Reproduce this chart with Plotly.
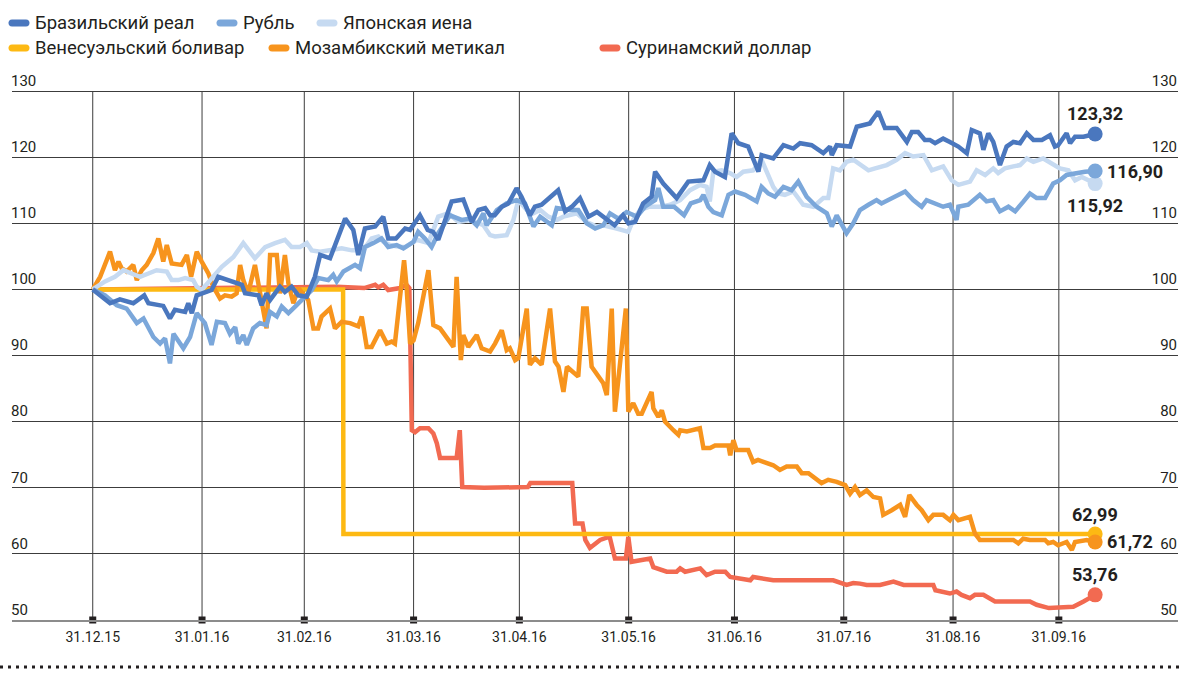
import pandas as pd
import plotly.graph_objects as go

# ---------------- data ----------------
start_date = "2015-12-31"
tick_dates = ["2015-12-31", "2016-01-31", "2016-02-29", "2016-03-31", "2016-04-30",
              "2016-05-31", "2016-06-30", "2016-07-31", "2016-08-31", "2016-09-30"]
tick_labels = ["31.12.15", "31.01.16", "31.02.16", "31.03.16", "31.04.16",
               "31.05.16", "31.06.16", "31.07.16", "31.08.16", "31.09.16"]
y_ticks = [50, 60, 70, 80, 90, 100, 110, 120, 130]

names = ["Бразильский реал", "Рубль", "Японская иена",
         "Венесуэльский боливар", "Мозамбикский метикал", "Суринамский доллар"]
end_labels = ["123,32", "116,90", "115,92", "62,99", "61,72", "53,76"]

# days since 31.12.15 / index value
brl_days = [0, 4.9, 7.7, 11.5, 14.6, 15.8, 20, 21.9, 23.3, 26.2, 27.1, 28.1, 29.5, 33.7, 35.6, 39.4,
            42.3, 43.2, 47, 47.9, 49.3, 50.3, 53.1, 54.5, 56.4, 58.3, 60.7, 63, 64.5, 67.3, 71.6,
            73.9, 75.3, 77.2, 80.1, 82.4, 83.8, 86, 88.6, 90, 92.8, 95, 96.5, 98, 99, 101.8, 105.1,
            107.5, 109.4, 111.3, 112.7, 114, 116, 117.9, 120.2, 121.6, 124, 125.4, 127.3, 130.2,
            132, 134, 135.9, 138.2, 140.6, 143, 144.8, 148, 150.4, 151.9, 153.8, 156.1, 158.5,
            159.5, 161.8, 165.6, 168.9, 173.2, 175, 176.5, 179.3, 181.2, 183.1, 185.9, 188.8,
            189.7, 193, 195.9, 198.7, 200.6, 203.9, 207.2, 209.1, 209.6, 211, 214.8, 216.7, 220.4,
            222.8, 224.7, 228, 230.9, 232.3, 234.1, 236, 237.4, 238.9, 241.2, 243.1, 245.5, 247.9,
            249.3, 251.6, 252.6, 254, 255.4, 257.3, 259.2, 261.1, 263, 264.9, 266.8, 269.2, 271.5,
            272.9, 273.8, 276.2, 277.2, 278.6, 281, 284.3]
brl_vals = [100, 97.9, 98.5, 97.9, 99.1, 97.9, 97.5, 95.6, 96.9, 96.6, 97.9, 96.4, 99.1, 99.9, 101.9,
            101.2, 100.7, 99.4, 99.1, 97.6, 99.4, 98.4, 100.4, 99.6, 100.4, 99.1, 98.9, 101.9, 105.2,
            104.7, 110.7, 109, 105.2, 109.2, 109.5, 111, 107.7, 107.7, 109.2, 109, 111.2, 109, 108.7,
            107.5, 109, 113.3, 113.6, 110.2, 112, 112.3, 111.2, 111.2, 112.5, 113, 115.3, 114, 111.2,
            112.5, 112.8, 114.3, 115, 111.8, 112.5, 113.8, 111, 111.7, 111, 109.7, 111.2, 110, 110.2,
            113, 114, 117.8, 116, 113.8, 116.3, 116.5, 118.8, 117.8, 117, 123.6, 122.1, 121.6, 117.8,
            120.3, 119.8, 121.8, 121.3, 122.1, 121.8, 120.6, 121.6, 120.3, 121.8, 121.6, 124.6, 125.1,
            126.9, 124.4, 124.4, 122.3, 123.8, 123.8, 122.6, 122.6, 122.1, 122.8, 122.3, 121.6, 120.6,
            124.1, 123.6, 121.1, 123.6, 122.3, 118.8, 121.6, 122.3, 122.1, 123.6, 122.6, 122.6, 123.3,
            121.6, 121.8, 123.6, 122.1, 123.1, 123.1, 123.5]

rub_days = [0, 3.5, 6.8, 9.6, 12.5, 14.4, 17.2, 19.1, 20.5, 21.9, 22.9, 25.7, 27.6, 29.5, 31.8, 33.7,
            35.2, 37.5, 38.9, 40.4, 41.3, 42.7, 43.7, 45.5, 47.4, 49.3, 50.3, 52.2, 53.6, 55.5, 57.4,
            60.2, 62.1, 64, 66.8, 68.2, 69.2, 71.1, 74.4, 75.8, 77.2, 79.6, 81.9, 83.8, 86.2, 88.1,
            91, 92.3, 94.2, 96.1, 98, 101.3, 104.6, 107, 108.9, 110.8, 111.7, 112.7, 114.6, 117.4,
            120.2, 122.6, 125, 126.9, 130.2, 131.6, 135.4, 137.7, 140.1, 142.5, 144.8, 146.7, 149.1,
            151.4, 154.3, 156.6, 159.5, 160.4, 161.8, 164.9, 167.7, 169.6, 172.3, 173.2, 174.6, 176,
            178.4, 180.3, 182.2, 185, 188.3, 189.7, 191.6, 193.5, 195.9, 198.2, 200.1, 202.5, 205.3,
            208.2, 209.6, 211, 213.8, 215.7, 217.6, 220, 222.3, 223.7, 227.1, 230.4, 232.7, 235.1,
            236.5, 238.9, 241.2, 243.1, 245, 245.5, 248.3, 251.6, 253.5, 255.4, 257.3, 259.7, 261.6,
            264, 265.8, 267.7, 270.1, 272.4, 274.3, 276.2, 278.6, 281.4, 284.3]
rub_vals = [100, 99.1, 97.6, 97.1, 94.9, 95.6, 92.8, 91.8, 92.6, 88.8, 93.3, 91.1, 92.8, 96.4, 94.9,
            91.6, 95.1, 94.9, 93.3, 94.3, 91.8, 93.1, 91.6, 94.1, 94.9, 94.6, 96.6, 95.9, 97.4, 96.4,
            97.4, 98.9, 99.9, 101.7, 101.4, 102.2, 101.2, 102.7, 103.7, 103.2, 106.4, 107, 107.7,
            106.4, 106.7, 106.2, 107.2, 108.7, 107.7, 106.4, 108.5, 111.2, 110.5, 110.7, 109.7, 111.5,
            109.7, 110.5, 112, 113, 113.5, 113, 109.5, 111, 109.7, 112.3, 112, 112, 110, 109.2, 109.7,
            111.5, 110.7, 111.7, 111, 112.5, 113.5, 115.3, 112.5, 112.5, 111.2, 113, 113.5, 114.3,
            112.5, 111.7, 111.2, 114.3, 114.8, 114.3, 113.3, 115.5, 114.5, 114, 115.5, 115, 116.3,
            114, 112.5, 111.5, 109.5, 111.2, 108.5, 110, 112, 112.8, 113.5, 113, 114, 114.8, 113.5,
            112.5, 113.5, 113, 112.5, 112.8, 110.5, 112.5, 112.8, 114.3, 113.3, 113.5, 111.8, 112.5,
            111.8, 113.3, 114.5, 113.8, 113.8, 116, 116.5, 117.3, 117.6, 117.8, 117.9]

jpy_days = [0, 3.5, 6.3, 8.7, 11, 13.4, 15.8, 18.1, 21, 22.4, 24.3, 26.2, 28.5, 29.5, 30.9, 33.7, 36.6,
            39.9, 42.7, 46, 48.9, 51.7, 54.5, 56.4, 58.8, 60.7, 62.1, 64.5, 68.2, 70.6, 73.5, 76.7,
            79.1, 81, 82.4, 84.3, 87.2, 88.6, 91.9, 95.2, 98, 100.9, 103.7, 107, 110.8, 112.7, 114.1,
            117.4, 119.3, 120.7, 123.1, 125, 126.9, 129.2, 131.6, 133.5, 137.3, 140.1, 142.9, 144.8,
            148.6, 151.9, 153.3, 155.2, 157.9, 161, 163.8, 166.6, 169.4, 172.2, 174.1, 175, 176,
            178.4, 180.7, 182.6, 184.5, 187.3, 189.7, 191.2, 193, 194.4, 196.3, 198.7, 201.5, 204.4,
            207.2, 208.6, 210, 211.9, 213.8, 215.7, 217.6, 220, 221.9, 225.2, 228, 230.4, 232.7,
            235.6, 238, 241.2, 243.6, 245.5, 248.8, 250.7, 253.1, 255.4, 256.8, 258.7, 261.1, 263,
            264.9, 266.8, 269.6, 272, 274.3, 276.7, 278.6, 280.5, 282.4, 284.3]
jpy_vals = [100, 101.2, 101.9, 102.9, 102.4, 101.9, 102.4, 102.9, 102.7, 101.4, 101.4, 101.7, 101.4,
            100.4, 99.9, 101.7, 103.4, 104.9, 107, 104.7, 106.4, 107, 107.5, 106.4, 106.4, 107, 105.9,
            105.7, 105.9, 106.2, 105.9, 105.9, 107.7, 108, 107.2, 106.7, 106.4, 106.4, 107.5, 107,
            111, 111.5, 110.2, 110.5, 109.7, 108.2, 108, 108.2, 110.5, 113.5, 112, 111.5, 112, 111,
            110.5, 111, 111.5, 110.2, 109.5, 109.7, 109.2, 108.7, 110.5, 112, 112.5, 112.5, 112.8,
            113.5, 115, 115.8, 115.5, 113.3, 117.8, 118, 117.6, 117, 117.8, 118, 119.6, 117.8, 115.5,
            114.5, 114.3, 114.8, 112.8, 112.5, 113.8, 113.8, 118.3, 118, 119.3, 119.6, 118.8, 118,
            118.3, 118.8, 119.6, 120.6, 120.1, 120.3, 118, 118.6, 116.5, 115.8, 116.3, 118, 117.3,
            118.3, 117.6, 118.3, 118.6, 118.8, 119.8, 119.3, 119.8, 119.1, 118.3, 118, 116.5, 117,
            116.5, 116]

vef_days = [0, 71, 71.1, 284.3]
vef_vals = [100, 100, 63, 63]

mzn_days = [0, 2.1, 4.9, 6.3, 7.3, 8.2, 9.6, 11.5, 12.5, 13.9, 15.3, 17.2, 18.6, 20, 21, 22.4, 25.2,
            26.7, 27.9, 29.5, 30.9, 32.8, 34.2, 36.1, 37.5, 39.4, 40.8, 41.8, 42.7, 44.1, 46, 47.4,
            49.3, 50.3, 52.2, 53.1, 54.5, 55.5, 56.9, 58.3, 61.1, 62.6, 63.9, 64.9, 67.3, 68.7, 70.6,
            73, 75.3, 76.3, 77.7, 79.1, 81.5, 83.4, 84.8, 85.7, 87.2, 88.3, 89, 90, 91, 92.3, 95.2,
            96.6, 98.5, 99.9, 102.3, 103.2, 104.4, 105.1, 106.5, 108.9, 110.3, 112.7, 114.1, 116,
            117.4, 118.3, 119.8, 120.7, 123.1, 124, 125.4, 127.3, 129.7, 131.1, 132.1, 133.5, 134.5,
            137.7, 139.1, 140.1, 141.5, 144.8, 145.8, 147.2, 148.1, 151.2, 151.9, 153.3, 154.7,
            155.7, 158.5, 159, 160.4, 161.4, 162.3, 164.7, 166.1, 166.6, 168.5, 172.2, 173.2, 175.1,
            176.5, 180.3, 180.8, 181.7, 182.6, 185.9, 187.3, 188.7, 193, 194.9, 196.8, 199.7, 201.1,
            203, 206.7, 208.6, 211, 213.4, 214.8, 216.2, 217.6, 219.5, 221.4, 223.3, 224.2, 226.6,
            229, 230.4, 231.6, 233.7, 235.1, 237, 238.4, 241.2, 243.1, 244.1, 245.5, 248.8, 250.2,
            251.6, 256.3, 261.1, 262.5, 263.9, 265.8, 270.1, 271, 272.4, 273.8, 276.2, 277.7, 278.6,
            281.9, 284.3]
mzn_vals = [100, 101.9, 105.7, 102.9, 104.2, 103.2, 102.7, 103.7, 101.4, 102.9, 103.7, 105.5, 107.7,
            104.2, 106.7, 103.9, 103.7, 105.2, 101.9, 105.7, 104.2, 102.4, 100.4, 98.6, 99.1, 98.9,
            99.4, 103.7, 101.4, 99.4, 103.7, 99.9, 94.1, 105.2, 105.2, 99.4, 105.2, 100.9, 97.9, 100.2,
            98.4, 94.1, 94.1, 95.9, 97.1, 94.1, 95.1, 94.9, 94.4, 95.9, 91.3, 91.3, 93.8, 91.8, 92.1,
            91.8, 98.9, 104.4, 100.4, 91.8, 92.3, 94.9, 102.9, 94.6, 94.1, 93.1, 91.3, 101.9, 89.3,
            93.1, 91.3, 93.1, 91.1, 90.6, 91.8, 93.8, 90.8, 91.1, 89.3, 89.6, 97.1, 88.6, 89.6, 88.6,
            97.1, 89.1, 88.3, 84.5, 88.3, 86.8, 97.1, 97.1, 88.3, 85.8, 84, 97.1, 81.5, 97.1, 81.5,
            82.8, 81.2, 81.2, 84.5, 82, 80.7, 81.7, 80, 78.7, 78, 78.7, 78.5, 79, 76, 76, 76.4, 76.4,
            74.9, 77.2, 75.7, 75.7, 73.9, 74.2, 73.4, 72.7, 73.2, 73.2, 72.2, 72.2, 70.7, 71.2, 70.9,
            70.4, 69.1, 70.1, 68.9, 69.6, 68.6, 68.4, 65.9, 66.6, 67.4, 65.6, 68.9, 67.4, 66.6, 65.1,
            65.9, 65.9, 65.1, 65.9, 65.1, 65.6, 63.1, 62.1, 62.1, 62.1, 61.6, 62.3, 62.1, 62.1, 61.6,
            61.8, 61.3, 61.8, 60.6, 61.8, 62.1, 61.8]

srd_days = [0, 69.2, 77, 80.1, 81, 82.4, 83.8, 87.2, 89, 89.8, 90.5, 91.4, 92.8, 95.2, 96.6, 97.6,
            98.5, 103.2, 104.1, 104.8, 111, 123.4, 124.1, 136, 136.8, 138.9, 139.7, 141, 143.9, 146.6,
            148.1, 151.2, 151.9, 152.8, 158.1, 159, 162.8, 165.6, 166.6, 168, 172.3, 174.1, 176.5,
            179.4, 180.8, 186.5, 187.3, 193, 200.6, 210, 213.8, 215.7, 217.6, 219.5, 223.3, 227.1,
            230, 238.4, 239, 243.1, 245, 246.4, 248.8, 250.2, 252.6, 255.9, 265.8, 267.7, 271.2,
            278.1, 281, 284.3]
srd_vals = [100, 100.4, 100.2, 100.7, 100.3, 100.7, 99.9, 100.2, 100.7, 100.2, 78.7, 78.4, 79, 79,
            78.2, 76.7, 74.5, 74.5, 78.7, 70.1, 70, 70.1, 70.7, 70.7, 64.6, 64.6, 62.1, 60.9, 62.1,
            62.6, 59.3, 59.3, 62.6, 58.8, 59.3, 58, 57.3, 57.3, 57.8, 57.3, 57.8, 56.8, 57.3, 57.3,
            56.5, 56, 56.5, 56, 56, 56, 55.3, 55.6, 55.5, 55.3, 55.3, 55.8, 55.3, 55.3, 54.5, 54,
            54.3, 53.8, 53.3, 53.8, 53.8, 52.8, 52.8, 52.3, 51.8, 52, 52.8, 53.8]

colors = ["#4a77be", "#7ba7da", "#c6daf1", "#fdb913", "#f7941d", "#f26a51"]

# ---------------- figure ----------------
base = pd.Timestamp(start_date)


def to_dates(days):
    return base + pd.to_timedelta(days, unit="D")


series = [(brl_days, brl_vals), (rub_days, rub_vals), (jpy_days, jpy_vals),
          (vef_days, vef_vals), (mzn_days, mzn_vals), (srd_days, srd_vals)]

FONT = "Roboto"
TXT = "#231f20"
GRID = "#3c3c3c"
W, H = 1181, 676
L, R, T, B = 12, 3, 60, 56
PW, PH = W - L - R, H - T - B
Y_TOP = 130 + (91 - T) / ((620 - 91) / 80)  # keep 130 at the same height as the reference

fig = go.Figure()
draw_order = [5, 3, 4, 2, 1, 0]
for i in draw_order:
    d, v = series[i]
    x = to_dates(d)
    fig.add_trace(go.Scatter(x=x, y=v, mode="lines", line=dict(color=colors[i], width=4.5),
                             name=names[i], showlegend=False, hoverinfo="skip"))
for i in draw_order:
    d, v = series[i]
    x = to_dates(d)
    fig.add_trace(go.Scatter(x=[x[-1]], y=[v[-1]], mode="markers",
                             marker=dict(color=colors[i], size=15), showlegend=False,
                             hoverinfo="skip", cliponaxis=False))

# tick squares on the bottom axis
fig.add_trace(go.Scatter(x=tick_dates, y=[50] * len(tick_dates), mode="markers",
                         marker=dict(symbol="square", size=7, color=TXT),
                         showlegend=False, hoverinfo="skip", cliponaxis=False))

x_range = [base + pd.Timedelta(days=-22.9), base + pd.Timedelta(days=307.8)]

fig.update_layout(
    width=W, height=H,
    margin=dict(l=L, r=R, t=T, b=B),
    paper_bgcolor="white", plot_bgcolor="white",
    font=dict(family=FONT, color=TXT, size=14),
    showlegend=False,
    xaxis=dict(range=x_range, tickvals=tick_dates, ticktext=tick_labels,
               showgrid=False, showline=True, linecolor="#8c8c8c", linewidth=2,
               ticks="", tickfont=dict(size=14, color=TXT), zeroline=False,
               ticklabelstandoff=3),
    yaxis=dict(range=[50, Y_TOP], tickvals=y_ticks,
               showgrid=True, gridcolor=GRID, gridwidth=1, zeroline=False,
               ticks="", ticklabelposition="inside top", ticklabelstandoff=-4,
               tickfont=dict(size=15, color=TXT)),
    yaxis2=dict(range=[50, Y_TOP], tickvals=y_ticks,
                overlaying="y", side="right", showgrid=False, zeroline=False,
                ticks="", ticklabelposition="inside top", ticklabelstandoff=-2,
                tickfont=dict(size=15, color=TXT)),
)
# invisible trace so that yaxis2 is drawn
fig.add_trace(go.Scatter(x=[x_range[0]], y=[50], yaxis="y2", mode="markers",
                         marker=dict(opacity=0), showlegend=False, hoverinfo="skip"))

# vertical grid lines (only between 50 and 130)
for td in tick_dates:
    fig.add_shape(type="line", xref="x", yref="y", x0=td, x1=td, y0=y_ticks[0], y1=y_ticks[-1],
                  line=dict(color=GRID, width=1), layer="below")

# end-value labels
label_pos = [  # (xshift, yshift, xanchor)
    (0, 20, "center"), (10, 0, "left"), (0, -22, "center"),
    (0, 20, "center"), (10, 0, "left"), (0, 20, "center")]
for i in range(6):
    d, v = series[i]
    xs, ys, xa = label_pos[i]
    fig.add_annotation(x=to_dates(d)[-1], y=v[-1], text="<b>" + end_labels[i] + "</b>",
                       showarrow=False, xshift=xs, yshift=ys, xanchor=xa, yanchor="middle",
                       font=dict(size=18, color=TXT, family=FONT))


# manual legend
def px_x(px):
    return (px - L) / PW


def px_y(py):
    return (H - B - py) / PH


legend_items = [(0, 19, 23), (1, 227, 23), (2, 327, 23),
                (3, 19, 48), (4, 279, 48), (5, 610, 48)]
pill = "M -7,-3.5 L 7,-3.5 C 11.7,-3.5 11.7,3.5 7,3.5 L -7,3.5 C -11.7,3.5 -11.7,-3.5 -7,-3.5 Z"
for i, cx, cy in legend_items:
    fig.add_shape(type="path", xref="paper", yref="paper", xsizemode="pixel", ysizemode="pixel",
                  xanchor=px_x(cx), yanchor=px_y(cy), path=pill,
                  fillcolor=colors[i], line=dict(width=0))
    fig.add_annotation(xref="paper", yref="paper", x=px_x(cx + 14), y=px_y(cy),
                       text=names[i], showarrow=False, xanchor="left", yanchor="middle",
                       font=dict(size=18.5, color=TXT, family=FONT))

# dotted separator at the bottom
fig.add_shape(type="line", xref="paper", yref="paper", x0=px_x(0), x1=px_x(W), y0=px_y(667),
              y1=px_y(667), line=dict(color=TXT, width=3, dash="3px,5px"))

fig.write_html("out.html", config={"displayModeBar": False},
               post_script="document.body.style.margin='0';")
